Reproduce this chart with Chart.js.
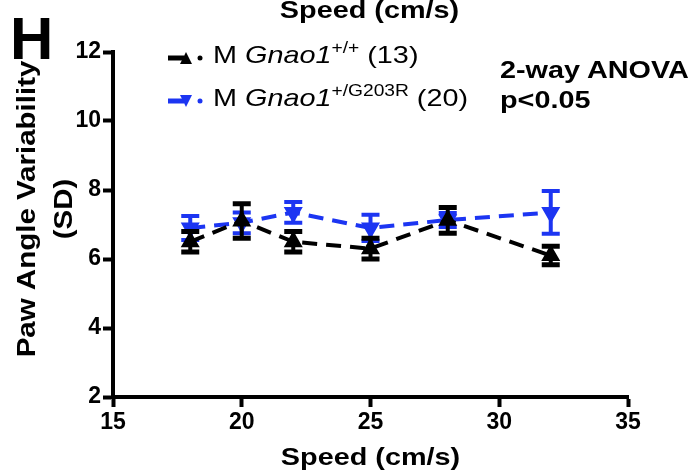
<!DOCTYPE html>
<html>
<head>
<meta charset="utf-8">
<script src="https://cdn.jsdelivr.net/npm/chart.js@4"></script>
<style>
  body { margin: 0; background: #fff; }
  #wrap { position: relative; width: 690px; height: 475px; font-family: "Liberation Sans", Arial, sans-serif; }
  #grafico { position: absolute; left: 0; top: 0; }
  .txt { position: absolute; white-space: nowrap; color: #000; transform: scaleX(1.2); transform-origin: left top; }
  .legenda { font-size: 24px; left: 213px; }
  .legenda sup { font-size: 16px; vertical-align: 0; position: relative; top: -10px; }
  .nota { font-size: 24px; font-weight: bold; left: 500px; }
</style>
</head>
<body>
<div id="wrap">
  <canvas id="grafico" width="690" height="475"></canvas>
  <div class="txt" style="left:10px; top:4px; font-size:60px; font-weight:bold; transform:none;">H</div>
  <div class="txt legenda" style="top:41px;">M <i>Gnao1</i><sup>+/+</sup> (13)</div>
  <div class="txt legenda" style="top:84px;">M <i>Gnao1</i><sup>+/G203R</sup> (20)</div>
  <div class="txt nota" style="top:56px;">2-way ANOVA</div>
  <div class="txt nota" style="top:86px;">p&lt;0.05</div>
</div>
<script>
const velocidades = [18, 20, 22, 25, 28, 32];
const mediaWT = [6.5, 7.1, 6.5, 6.3, 7.12, 6.1];
const erroWT = [0.3, 0.5, 0.3, 0.3, 0.37, 0.27];
const mediaMut = [6.9, 7.05, 7.35, 6.9, 7.13, 7.35];
const erroMut = [0.35, 0.3, 0.3, 0.38, 0.2, 0.62];
const ticksX = [15, 20, 25, 30, 35];
const ticksY = [2, 4, 6, 8, 10, 12];

const erros = [erroWT, erroMut];
const corAzul = "#1c35f2";
const fonteNegrito = "bold 24px 'Liberation Sans', Arial, sans-serif";

// barras de erro desenhadas junto com cada dataset
const barrasErro = {
  id: "barrasErro",
  afterDatasetDraw(chart, args) {
    const ctx = chart.ctx;
    const ds = chart.data.datasets[args.index];
    const y = chart.scales.y;
    const err = erros[args.index];
    ctx.save();
    ctx.strokeStyle = ds.borderColor;
    args.meta.data.forEach((p, i) => {
      const v = ds.data[i].y;
      const yTop = y.getPixelForValue(v + err[i]);
      const yBot = y.getPixelForValue(v - err[i]);
      ctx.lineWidth = 4;
      ctx.beginPath();
      ctx.moveTo(p.x, yTop);
      ctx.lineTo(p.x, yBot);
      ctx.stroke();
      ctx.lineWidth = args.index === 0 ? 5 : 4;
      ctx.beginPath();
      ctx.moveTo(p.x - 9, yTop);
      ctx.lineTo(p.x + 9, yTop);
      ctx.moveTo(p.x - 9, yBot);
      ctx.lineTo(p.x + 9, yBot);
      ctx.stroke();
    });
    ctx.restore();
  },
};

function textoEsticado(ctx, txt, x, y) {
  ctx.save();
  ctx.translate(x, y);
  ctx.scale(1.2, 1);
  ctx.fillText(txt, 0, 0);
  ctx.restore();
}

// textos extras e simbolos da legenda
const extras = {
  id: "extras",
  afterDraw(chart) {
    const ctx = chart.ctx;
    const area = chart.chartArea;
    const cx = (area.left + area.right) / 2;
    ctx.save();
    ctx.fillStyle = "#000";
    ctx.font = fonteNegrito;
    ctx.textAlign = "center";
    ctx.textBaseline = "alphabetic";
    textoEsticado(ctx, "Speed (cm/s)", cx - 1, 18);
    textoEsticado(ctx, "Speed (cm/s)", cx, 465);

    ctx.save();
    ctx.font = "bold 25px 'Liberation Sans', Arial, sans-serif";
    ctx.rotate(-Math.PI / 2);
    ctx.save();
    ctx.translate(-209, 35);
    ctx.scale(1.18, 1);
    ctx.fillText("Paw Angle Variability", 0, 0);
    ctx.restore();
    ctx.save();
    ctx.translate(-209, 72);
    ctx.scale(1.18, 1);
    ctx.fillText("(SD)", 0, 0);
    ctx.restore();
    ctx.restore();

    const linhas = [58, 101];
    chart.data.datasets.forEach((ds, i) => {
      const yy = linhas[i];
      ctx.strokeStyle = ds.borderColor;
      ctx.fillStyle = ds.borderColor;
      ctx.lineWidth = 5;
      ctx.beginPath();
      ctx.moveTo(168, yy);
      ctx.lineTo(184, yy);
      ctx.stroke();
      ctx.beginPath();
      const s = i === 0 ? -1 : 1;
      ctx.moveTo(180, yy - s * 6);
      ctx.lineTo(192, yy - s * 6);
      ctx.lineTo(186, yy + s * 6);
      ctx.closePath();
      ctx.fill();
      ctx.beginPath();
      ctx.arc(200, yy, 2.5, 0, Math.PI * 2);
      ctx.fill();
    });
    ctx.restore();
  },
};

new Chart(document.getElementById("grafico"), {
  type: "line",
  data: {
    datasets: [
      {
        label: "M Gnao1 +/+ (13)",
        data: velocidades.map((v, i) => ({ x: v, y: mediaWT[i] })),
        borderColor: "#000",
        backgroundColor: "#000",
        borderWidth: 4,
        borderDash: [15, 9],
        pointStyle: "triangle",
        pointRadius: 7,
        tension: 0,
      },
      {
        label: "M Gnao1 +/G203R (20)",
        data: velocidades.map((v, i) => ({ x: v, y: mediaMut[i] })),
        borderColor: corAzul,
        backgroundColor: corAzul,
        borderWidth: 4,
        borderDash: [15, 9],
        pointStyle: "triangle",
        pointRotation: 180,
        pointRadius: 7,
        tension: 0,
      },
    ],
  },
  options: {
    responsive: false,
    animation: false,
    layout: { padding: { top: 52, right: 62, left: 0, bottom: 0 } },
    plugins: { legend: { display: false }, tooltip: { enabled: false } },
    scales: {
      x: {
        type: "linear",
        min: 15,
        max: 35,
        afterBuildTicks: (s) => { s.ticks = ticksX.map((v) => ({ value: v })); },
        afterFit: (s) => { s.height = 78; },
        border: { color: "#000", width: 4 },
        grid: { drawOnChartArea: false, tickLength: 10, tickWidth: 4, tickColor: "#000" },
        ticks: { color: "#000", padding: 2, font: { size: 23, weight: "bold", family: "'Liberation Sans', Arial" } },
      },
      y: {
        min: 2,
        max: 12,
        afterBuildTicks: (s) => { s.ticks = ticksY.map((v) => ({ value: v })); },
        afterFit: (s) => { s.width = 113; },
        border: { color: "#000", width: 4 },
        grid: { drawOnChartArea: false, tickLength: 10, tickWidth: 4, tickColor: "#000" },
        ticks: { color: "#000", padding: 2, font: { size: 23, weight: "bold", family: "'Liberation Sans', Arial" } },
      },
    },
  },
  plugins: [barrasErro, extras],
});
</script>
</body>
</html>
